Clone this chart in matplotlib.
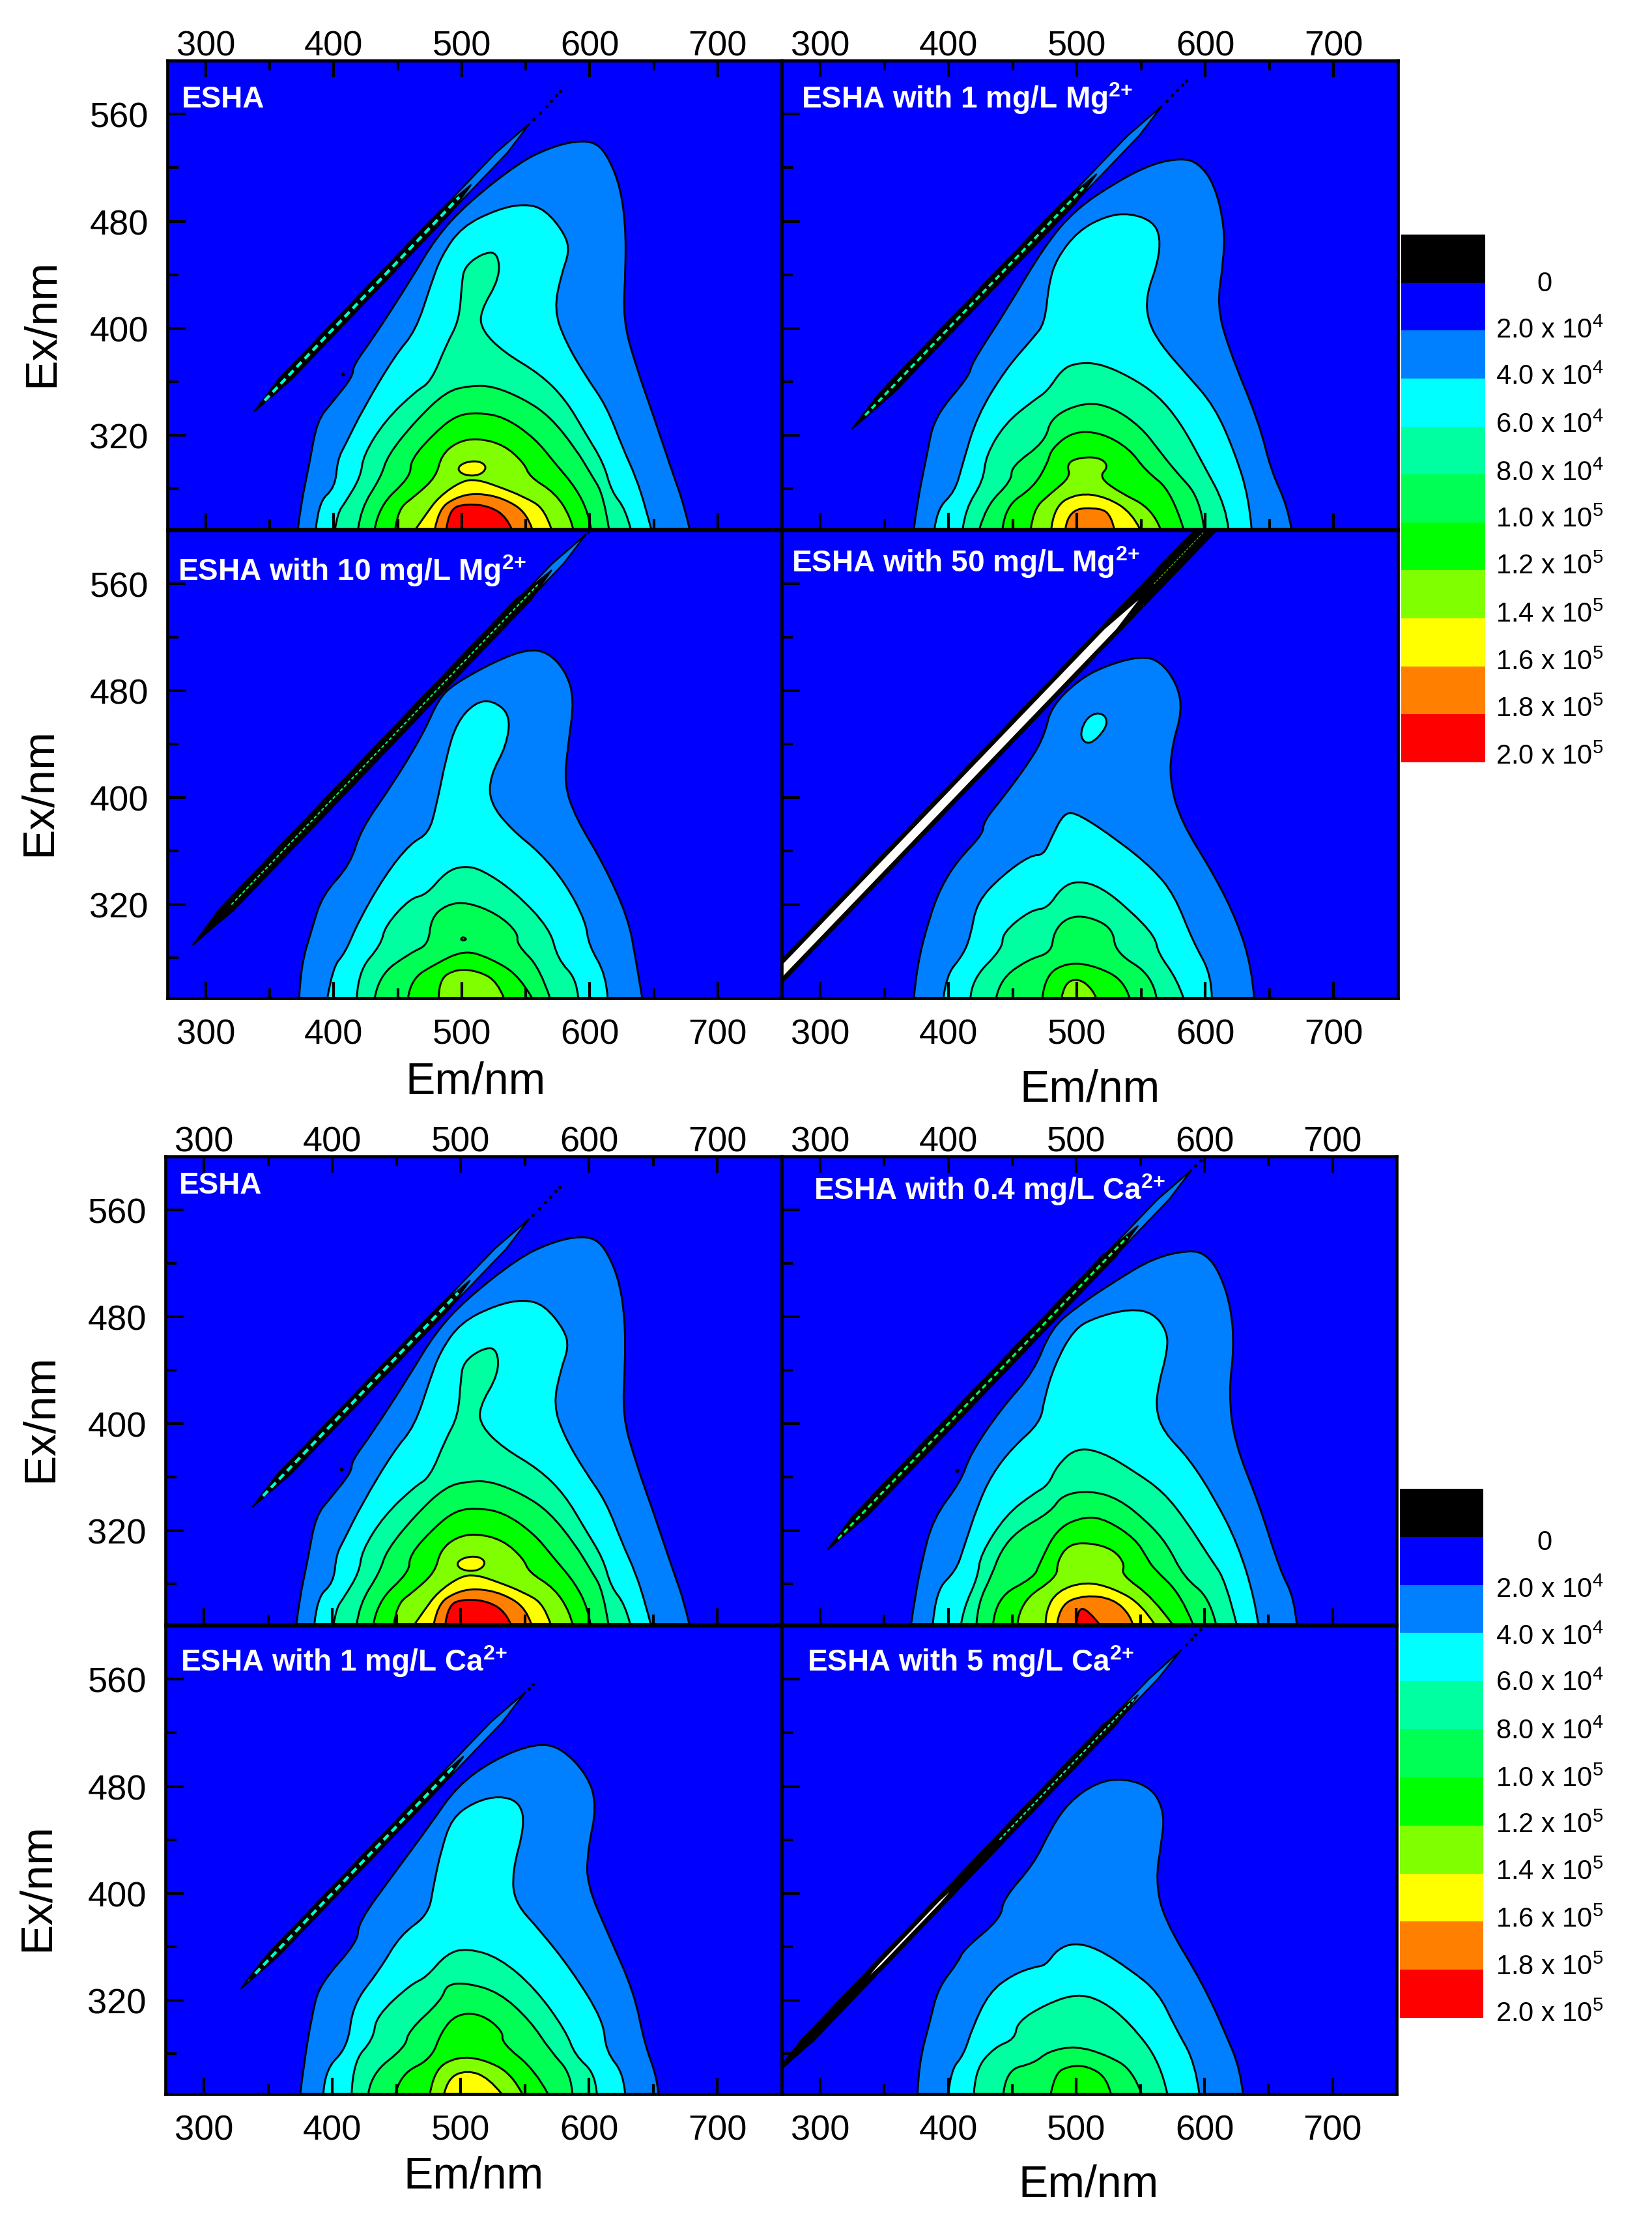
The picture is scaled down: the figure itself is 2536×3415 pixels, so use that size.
import numpy as np
import matplotlib
matplotlib.use("Agg")
import matplotlib.pyplot as plt
from matplotlib.path import Path
from matplotlib.patches import PathPatch
from matplotlib.colors import ListedColormap

plt.rcParams['font.family'] = ['Liberation Sans', 'DejaVu Sans']
plt.rcParams['mathtext.fontset'] = 'custom'
plt.rcParams['mathtext.rm'] = 'Liberation Sans'
plt.rcParams['mathtext.bf'] = 'Liberation Sans:bold'
plt.rcParams['mathtext.default'] = 'regular'

# ---------- shared scales ----------
EM_MAJOR = [300, 400, 500, 600, 700]
EM_MINOR = [350, 450, 550, 650]
EX_MAJOR = [320, 400, 480, 560]
EX_MINOR = [280, 360, 440, 520]
LEVEL_COLORS = ['#000000', '#0000FF', '#0080FF', '#00FFFF', '#00FFA0', '#00FF55',
                '#00FF00', '#80FF00', '#FFFF00', '#FF8000', '#FF0000']
LEVEL_LABELS = ['0', r'2.0 x 10$^{4}$', r'4.0 x 10$^{4}$', r'6.0 x 10$^{4}$', r'8.0 x 10$^{4}$',
                r'1.0 x 10$^{5}$', r'1.2 x 10$^{5}$', r'1.4 x 10$^{5}$', r'1.6 x 10$^{5}$',
                r'1.8 x 10$^{5}$', r'2.0 x 10$^{5}$']

# ---------- ESHA ----------
ESHA_L1 = [(372,250),(374,267),(381,299),(387,331),(399,345),(415,364),(415,372),(431,393),(460,436),(480,468),(504,493),(545,524),(569,535),(589,540),(605,539),(615,527),(624,505),(628,476),(628,444),(626,406),(636,372),(650,334),(664,294),(674,267),(678,250)]
ESHA_L2 = [(386,250),(388,270),(401,281),(403,302),(409,313),(423,340),(448,380),(464,398),(476,433),(484,454),(500,476),(528,489),(549,493),(565,489),(581,470),(584,457),(578,441),(572,414),(581,390),(597,364),(613,342),(626,310),(636,289),(644,265),(648,250)]
ESHA_L3 = [(401,250),(403,262),(409,270),(421,289),(423,305),(440,331),(464,353),(476,360),(488,388),(498,406),(500,433),(502,446),(516,456),(528,457),(530,438),(514,412),(516,398),(533,382),(561,366),(581,347),(597,321),(611,299),(617,278),(628,265),(632,250)]
ESHA_L4 = [(419,250),(421,265),(437,289),(442,305),(464,331),(488,353),(506,357),(524,357),(549,347),(569,334),(589,310),(601,291),(611,275),(615,250)]
ESHA_L5 = [(432,250),(435,267),(460,289),(460,302),(480,323),(496,335),(512,337),(533,334),(557,318),(573,299),(589,281),(599,262),(601,250)]
ESHA_L6 = [(448,250),(450,265),(464,275),(480,289),(484,305),(496,315),(512,318),(533,313),(549,299),(553,289),(573,277),(585,259),(587,250)]
ESHA_L7 = [(464,250),(472,261),(482,274),(500,286),(512,287),(528,282),(549,274),(565,265),(570,250)]
ESHA_L7B = [(496,295),(502,300),(514,301),(520,296),(514,290),(502,290)]
ESHA_L8 = [(479,250),(482,265),(496,274),(512,277),(533,273),(551,262),(555,250)]
ESHA_L9 = [(488,250),(490,265),(504,269),(522,267),(535,259),(539,250)]

# ---------- 1 mg/L Mg ----------
MG1_L1 = [(373,250),(375,267),(383,305),(389,334),(416,364),(418,374),(444,412),(475,462),(499,489),(532,510),(559,523),(581,527),(594,524),(607,508),(615,476),(614,449),(609,417),(618,385),(642,329),(651,294),(664,267),(667,250)]
MG1_L2 = [(389,250),(391,265),(405,278),(411,299),(422,334),(444,369),(466,393),(475,404),(478,433),(484,452),(501,473),(523,484),(541,486),(559,480),(565,468),(563,449),(554,425),(555,406),(565,388),(585,366),(607,342),(623,307),(634,273),(636,250)]
MG1_L3 = [(411,250),(413,265),(427,286),(429,305),(444,329),(466,346),(477,353),(488,369),(499,374),(517,374),(541,364),(563,350),(581,329),(598,299),(616,267),(618,250)]
MG1_L4 = [(424,250),(429,267),(449,286),(449,297),(475,315),(480,334),(506,345),(528,341),(550,326),(563,310),(576,294),(596,273),(599,250)]
MG1_L5 = [(442,250),(444,267),(466,281),(477,299),(480,310),(497,323),(519,322),(541,310),(553,294),(574,278),(583,250)]
MG1_L6 = [(464,250),(466,265),(480,277),(495,289),(492,298),(499,303),(517,304),(525,297),(517,289),(532,278),(559,265),(565,250)]
MG1_L7 = [(480,250),(482,267),(501,277),(523,274),(543,262),(549,250)]
MG1_L8 = [(491,250),(493,265),(519,266),(527,259),(529,250)]

# ---------- 10 mg/L Mg ----------
MG10_L1 = [(373,250),(374,273),(383,302),(391,327),(413,350),(421,376),(446,410),(470,448),(482,474),(494,485),(526,502),(551,511),(567,509),(581,495),(588,474),(583,439),(580,410),(589,385),(611,350),(630,310),(636,279),(641,250)]
MG10_L2 = [(395,250),(399,273),(409,284),(419,307),(440,342),(460,366),(474,373),(480,393),(488,431),(496,456),(510,471),(524,473),(538,462),(535,439),(522,416),(522,396),(539,376),(561,359),(581,336),(597,307),(599,290),(613,267),(614,250)]
MG10_L3 = [(418,250),(419,270),(437,290),(440,304),(460,325),(472,327),(488,345),(502,349),(516,346),(541,330),(569,302),(575,279),(590,264),(591,250)]
MG10_L4 = [(432,250),(435,267),(460,284),(474,290),(476,310),(488,320),(504,322),(528,313),(544,299),(543,290),(561,273),(569,250)]
MG10_L5 = [(458,250),(460,264),(480,276),(502,286),(522,280),(545,267),(555,250)]
MG10_L5B = [(499,294),(501,296),(504,294),(501,293)]
MG10_L6 = [(482,250),(482,264),(496,272),(514,270),(528,262),(533,250)]

# ---------- 50 mg/L Mg ----------
MG50_L1 = [(373,250),(375,273),(385,310),(394,333),(407,353),(427,373),(427,382),(444,402),(466,431),(475,448),(480,468),(501,488),(523,499),(550,506),(565,502),(578,485),(582,465),(574,439),(572,413),(581,382),(607,342),(625,307),(636,273),(638,250)]
MG50_L2 = [(396,250),(398,267),(411,282),(417,296),(422,322),(442,342),(464,357),(474,357),(480,370),(490,389),(501,388),(532,368),(559,347),(576,327),(590,293),(605,267),(605,250)]
MG50_L2B = [(502,445),(506,458),(515,464),(523,461),(523,452),(510,439)]
MG50_L3 = [(417,250),(418,264),(442,287),(442,299),(464,316),(477,317),(488,333),(501,338),(519,333),(541,316),(561,296),(563,284),(578,264),(583,250)]
MG50_L4 = [(437,250),(440,264),(462,279),(480,284),(482,300),(493,311),(510,311),(528,302),(530,284),(559,267),(562,250)]
MG50_L5 = [(473,250),(475,267),(493,277),(515,274),(537,263),(541,250)]
MG50_L6 = [(488,250),(490,261),(501,265),(512,257),(515,250)]

# ---------- 0.4 mg/L Ca ----------
CA04_L1 = [(371,250),(374,270),(379,295),(388,329),(410,357),(417,377),(441,411),(467,439),(480,471),(501,488),(529,506),(560,524),(588,530),(601,527),(612,513),(621,486),(623,456),(619,424),(623,387),(643,339),(659,290),(670,270),(672,250)]
CA04_L2 = [(388,250),(390,275),(406,290),(412,307),(423,339),(434,362),(450,382),(472,401),(475,419),(483,444),(498,471),(516,480),(542,486),(560,483),(571,469),(571,454),(564,429),(562,411),(568,394),(588,374),(608,344),(626,310),(639,270),(642,250)]
CA04_L3 = [(410,250),(412,262),(423,285),(425,302),(445,332),(467,348),(478,354),(485,369),(500,382),(520,379),(546,364),(568,349),(586,327),(604,300),(617,282),(625,250)]
CA04_L4 = [(422,250),(423,265),(434,287),(441,305),(454,320),(480,334),(489,347),(511,350),(533,344),(555,327),(571,310),(584,285),(604,270),(609,250)]
CA04_L5 = [(435,250),(437,270),(467,285),(471,295),(485,322),(507,331),(524,328),(546,314),(555,300),(560,292),(582,272),(591,250)]
CA04_L6 = [(454,250),(456,267),(485,285),(485,297),(494,310),(511,311),(529,306),(538,295),(535,287),(560,270),(575,250)]
CA04_L7 = [(476,250),(476,260),(485,275),(507,282),(529,277),(551,265),(561,250)]
CA04_L8 = [(485,250),(487,265),(507,272),(529,269),(542,257),(544,250)]
CA04_L9 = [(500,250),(501,262),(509,261),(518,250)]

# ---------- 1 mg/L Ca ----------
CA1_L1 = [(375,250),(378,274),(384,308),(390,332),(420,364),(420,378),(449,416),(476,451),(497,480),(526,500),(558,512),(578,509),(599,488),(606,465),(599,433),(598,407),(615,369),(635,326),(643,288),(653,262),(654,250)]
CA1_L2 = [(393,250),(394,268),(412,285),(416,317),(437,343),(453,369),(475,384),(479,407),(485,433),(493,456),(510,468),(530,473),(546,468),(550,451),(540,416),(542,393),(562,372),(586,343),(611,305),(613,282),(627,265),(628,250)]
CA1_L3 = [(415,250),(416,274),(432,291),(434,308),(461,332),(473,337),(489,355),(505,359),(530,352),(558,329),(582,297),(589,279),(605,265),(606,250)]
CA1_L4 = [(428,250),(430,265),(457,285),(459,297),(485,320),(489,332),(505,333),(530,326),(554,305),(570,282),(586,265),(587,250)]
CA1_L5 = [(449,250),(453,265),(477,276),(485,297),(497,310),(516,310),(533,297),(532,288),(558,268),(568,250)]
CA1_L6 = [(476,250),(479,268),(497,278),(518,276),(540,265),(548,250)]
CA1_L7 = [(487,250),(490,262),(505,268),(522,262),(532,250)]

# ---------- 5 mg/L Ca ----------
CA5_L1 = [(376,250),(377,273),(386,305),(392,329),(408,349),(412,358),(441,381),(443,396),(467,422),(480,448),(494,468),(516,483),(538,486),(560,478),(569,459),(566,436),(562,410),(568,381),(599,332),(617,294),(628,268),(630,250)]
CA5_L2 = [(400,250),(402,268),(412,279),(419,300),(432,326),(450,339),(467,345),(476,346),(485,358),(498,363),(516,359),(542,343),(564,326),(577,300),(593,273),(596,250)]
CA5_L3 = [(420,250),(421,268),(436,285),(452,291),(454,304),(476,317),(500,325),(520,320),(542,303),(566,273),(571,250)]
CA5_L4 = [(443,250),(445,268),(467,273),(478,282),(500,286),(524,279),(544,268),(551,250)]
CA5_L5 = [(480,250),(483,265),(494,271),(509,271),(524,262),(527,250)]

# ---------- scatter streak along Em = Ex: (start, end, half width in Em) ----------
ESHA_BAND = (338, 553, 4.5)
ESHA_CORE = (342, 507, 5.0)
ESHA_DASH = (346, 498)
ESHA_WHITE = None
ESHA_DOTS = [556, 561, 566, 570, 574, 577]
ESHA_SPECKS = [(407, 366)]
MG1_BAND = (325, 566, 4.5)
MG1_CORE = (330, 515, 5.5)
MG1_DASH = (335, 505)
MG1_WHITE = None
MG1_DOTS = [570, 574, 578, 582, 585]
MG1_SPECKS = []
MG10_BAND = (290, 597, 4.5)
MG10_CORE = (294, 570, 6.0)
MG10_DASH = (320, 560)
MG10_WHITE = None
MG10_DOTS = [599]
MG10_SPECKS = []
MG50_BAND = (230, 640, 8.5)
MG50_CORE = (230, 640, 8.5)
MG50_DASH = (560, 600)
MG50_WHITE = (230, 548, 4.5)
MG50_DOTS = []
MG50_SPECKS = []
CA04_BAND = (306, 590, 4.5)
CA04_CORE = (309, 548, 5.5)
CA04_DASH = (314, 540)
CA04_WHITE = None
CA04_DOTS = [593, 597]
CA04_SPECKS = [(407, 365)]
CA1_BAND = (329, 550, 4.5)
CA1_CORE = (336, 502, 4.8)
CA1_DASH = (340, 495)
CA1_WHITE = None
CA1_DOTS = [553, 556]
CA1_SPECKS = []
CA5_BAND = (262, 582, 3.5)
CA5_CORE = (268, 548, 5.0)
CA5_DASH = (440, 545)
CA5_WHITE = (339, 401, 0.9)
CA5_DOTS = [586, 590, 593, 597]
CA5_SPECKS = []

# dash colour and width inside the black streak
ESHA_DASH_STYLE = ('#00FFD0', 3.2)
MG1_DASH_STYLE = ('#00FFA0', 2.6)
MG10_DASH_STYLE = ('#00FF60', 1.5)
MG50_DASH_STYLE = ('#40C000', 1.0)
CA04_DASH_STYLE = ('#00FF55', 2.4)
CA1_DASH_STYLE = ('#00FFD0', 3.2)
CA5_DASH_STYLE = ('#00FFA0', 1.6)

# ---------- panel titles ----------
TITLE_ESHA = 'ESHA'
TITLE_MG1 = r'ESHA with 1 mg/L Mg$^{2{+}}$'
TITLE_MG10 = r'ESHA with 10 mg/L Mg$^{2{+}}$'
TITLE_MG50 = r'ESHA with 50 mg/L Mg$^{2{+}}$'
TITLE_CA04 = r'ESHA with 0.4 mg/L Ca$^{2{+}}$'
TITLE_CA1 = r'ESHA with 1 mg/L Ca$^{2{+}}$'
TITLE_CA5 = r'ESHA with 5 mg/L Ca$^{2{+}}$'

ESHA_SET = [(2, ESHA_L1), (3, ESHA_L2), (4, ESHA_L3), (5, ESHA_L4), (6, ESHA_L5), (7, ESHA_L6), (8, ESHA_L7), (8, ESHA_L7B), (9, ESHA_L8), (10, ESHA_L9)]
MG1_SET = [(2, MG1_L1), (3, MG1_L2), (4, MG1_L3), (5, MG1_L4), (6, MG1_L5), (7, MG1_L6), (8, MG1_L7), (9, MG1_L8)]
MG10_SET = [(2, MG10_L1), (3, MG10_L2), (4, MG10_L3), (5, MG10_L4), (6, MG10_L5), (6, MG10_L5B), (7, MG10_L6)]
MG50_SET = [(2, MG50_L1), (3, MG50_L2), (3, MG50_L2B), (4, MG50_L3), (5, MG50_L4), (6, MG50_L5), (7, MG50_L6)]
CA04_SET = [(2, CA04_L1), (3, CA04_L2), (4, CA04_L3), (5, CA04_L4), (6, CA04_L5), (7, CA04_L6), (8, CA04_L7), (9, CA04_L8), (10, CA04_L9)]
CA1_SET = [(2, CA1_L1), (3, CA1_L2), (4, CA1_L3), (5, CA1_L4), (6, CA1_L5), (7, CA1_L6), (8, CA1_L7)]
CA5_SET = [(2, CA5_L1), (3, CA5_L2), (4, CA5_L3), (5, CA5_L4), (6, CA5_L5)]

W, H = 2536, 3416
fig = plt.figure(figsize=(W / 100, H / 100), dpi=100, facecolor='white')


def add_axes_px(l, t, r, b):
    return fig.add_axes([l / W, 1 - b / H, (r - l) / W, (b - t) / H])


def ftext(x, y, s, **kw):
    fig.text(x / W, 1 - y / H, s, **kw)


def smooth_patch(pts, color, closed_bottom=True, lw=2.1):
    p = np.asarray(pts, float)
    n = len(p)
    if closed_bottom:
        verts = [p[0]]
        codes = [Path.MOVETO]
        for i in range(1, n - 1):
            end = p[n - 1] if i == n - 2 else (p[i] + p[i + 1]) / 2
            verts += [p[i], end]
            codes += [Path.CURVE3, Path.CURVE3]
        verts.append(p[0])
        codes.append(Path.CLOSEPOLY)
    else:
        start = (p[-1] + p[0]) / 2
        verts = [start]
        codes = [Path.MOVETO]
        for i in range(n):
            end = (p[i] + p[(i + 1) % n]) / 2
            verts += [p[i], end]
            codes += [Path.CURVE3, Path.CURVE3]
    return PathPatch(Path(verts, codes), facecolor=color, edgecolor='black', lw=lw, zorder=1.5)


def lens(ax, spec, color, z, lw=1.8):
    t0, t1, hw = spec
    d = min((t1 - t0) * 0.12, 22)
    xs = [t0, t0 + d + hw, t1 - d + hw, t1, t1 - d - hw, t0 + d - hw]
    ys = [t0, t0 + d, t1 - d, t1, t1 - d, t0 + d]
    ax.fill(xs, ys, facecolor=color, edgecolor='black', lw=lw, zorder=z, joinstyle='round')


def panel(box, contour_set, title, title_xy, band, core, dash, dash_style, white, dots, specks,
          top_row, left_col):
    ax = add_axes_px(*box)
    ax.set_facecolor(LEVEL_COLORS[1])
    ax.set_xlim(270, 750)
    ax.set_ylim(250, 600)
    for lev, pts in contour_set:
        ax.add_patch(smooth_patch(pts, LEVEL_COLORS[lev], closed_bottom=pts[0][1] == 250))
    lens(ax, band, LEVEL_COLORS[2], 1.6)
    lens(ax, core, '#000000', 1.7)
    ax.plot(dash, dash, color=dash_style[0], lw=dash_style[1], ls=(0, (2.4, 1.6)), zorder=1.8)
    if white:
        lens(ax, white, '#FFFFFF', 1.9, lw=0)
    if dots:
        ax.plot(dots, dots, ls='none', marker='o', ms=2.6, color='black', zorder=1.8)
    if specks:
        ax.plot(*zip(*specks), ls='none', marker='o', ms=3.4, color='black', zorder=1.8)
    ax.set_xticks(EM_MAJOR)
    ax.set_xticks(EM_MINOR, minor=True)
    ax.set_yticks(EX_MAJOR)
    ax.set_yticks(EX_MINOR, minor=True)
    ax.tick_params(axis='x', which='major', direction='in', length=18, width=3, labelsize=39,
                   top=top_row, bottom=True, labeltop=top_row, labelbottom=not top_row,
                   pad=22 if not top_row else -1.5)
    ax.tick_params(axis='x', which='minor', direction='in', length=11, width=3, top=top_row, bottom=True)
    ax.tick_params(axis='y', which='major', direction='in', length=20, width=3, labelsize=39,
                   left=True, right=False, labelleft=left_col, pad=21)
    ax.tick_params(axis='y', which='minor', direction='in', length=12, width=3, left=True, right=False)
    for s in ax.spines.values():
        s.set_linewidth(3.4)
    ftext(title_xy[0], title_xy[1], title, color='white', fontsize=33, fontweight='bold',
          ha='left', va='baseline')
    return ax


panel((257, 94, 1200, 813), ESHA_SET, TITLE_ESHA, (279, 165), ESHA_BAND, ESHA_CORE, ESHA_DASH, ESHA_DASH_STYLE, ESHA_WHITE, ESHA_DOTS, ESHA_SPECKS, True, True)
panel((1200, 94, 2146, 813), MG1_SET, TITLE_MG1, (1230, 166), MG1_BAND, MG1_CORE, MG1_DASH, MG1_DASH_STYLE, MG1_WHITE, MG1_DOTS, MG1_SPECKS, True, False)
panel((257, 815, 1200, 1533), MG10_SET, TITLE_MG10, (273, 891), MG10_BAND, MG10_CORE, MG10_DASH, MG10_DASH_STYLE, MG10_WHITE, MG10_DOTS, MG10_SPECKS, False, True)
panel((1200, 815, 2146, 1533), MG50_SET, TITLE_MG50, (1215, 878), MG50_BAND, MG50_CORE, MG50_DASH, MG50_DASH_STYLE, MG50_WHITE, MG50_DOTS, MG50_SPECKS, False, False)
panel((254, 1776, 1200, 2494), ESHA_SET, TITLE_ESHA, (275, 1832), ESHA_BAND, ESHA_CORE, ESHA_DASH, ESHA_DASH_STYLE, ESHA_WHITE, ESHA_DOTS, ESHA_SPECKS, True, True)
panel((1200, 1776, 2144, 2494), CA04_SET, TITLE_CA04, (1249, 1841), CA04_BAND, CA04_CORE, CA04_DASH, CA04_DASH_STYLE, CA04_WHITE, CA04_DOTS, CA04_SPECKS, True, False)
panel((254, 2496, 1200, 3215), CA1_SET, TITLE_CA1, (277, 2565), CA1_BAND, CA1_CORE, CA1_DASH, CA1_DASH_STYLE, CA1_WHITE, CA1_DOTS, CA1_SPECKS, False, True)
panel((1200, 2496, 2144, 3215), CA5_SET, TITLE_CA5, (1239, 2565), CA5_BAND, CA5_CORE, CA5_DASH, CA5_DASH_STYLE, CA5_WHITE, CA5_DOTS, CA5_SPECKS, False, False)

# axis titles
for x, y in [(64, 495), (60, 1216), (62, 2177), (57, 2897)]:
    ftext(x, y, 'Ex/nm', fontsize=50, rotation=90, ha='center', va='center')
for x, y in [(730, 1661), (1673, 1673), (727, 3341), (1671, 3354)]:
    ftext(x, y, 'Em/nm', fontsize=49, ha='center', va='center')


def colorbar(l, t, r, b, label_ys, zero_x, label_x):
    ax = add_axes_px(l, t, r, b)
    n = len(LEVEL_COLORS)
    ax.pcolormesh([0, 1], np.arange(n + 1), np.arange(n)[::-1].reshape(-1, 1),
                  cmap=ListedColormap(LEVEL_COLORS), vmin=-0.5, vmax=n - 0.5)
    ax.set_axis_off()
    for lab, y in zip(LEVEL_LABELS, label_ys):
        if lab == '0':
            ftext(zero_x, y + 14, lab, fontsize=30, ha='center', va='baseline')
        else:
            ftext(label_x, y + 14, lab, fontsize=30, ha='left', va='baseline')


colorbar(2151, 361, 2280, 1171, [433, 505, 576, 650, 724, 795, 867, 941, 1014, 1086, 1159], 2371, 2296)
colorbar(2149, 2286, 2277, 3098, [2365, 2438, 2510, 2581, 2655, 2728, 2799, 2871, 2944, 3017, 3089], 2371, 2296)

fig.savefig('out.png', dpi=100, facecolor='white')
